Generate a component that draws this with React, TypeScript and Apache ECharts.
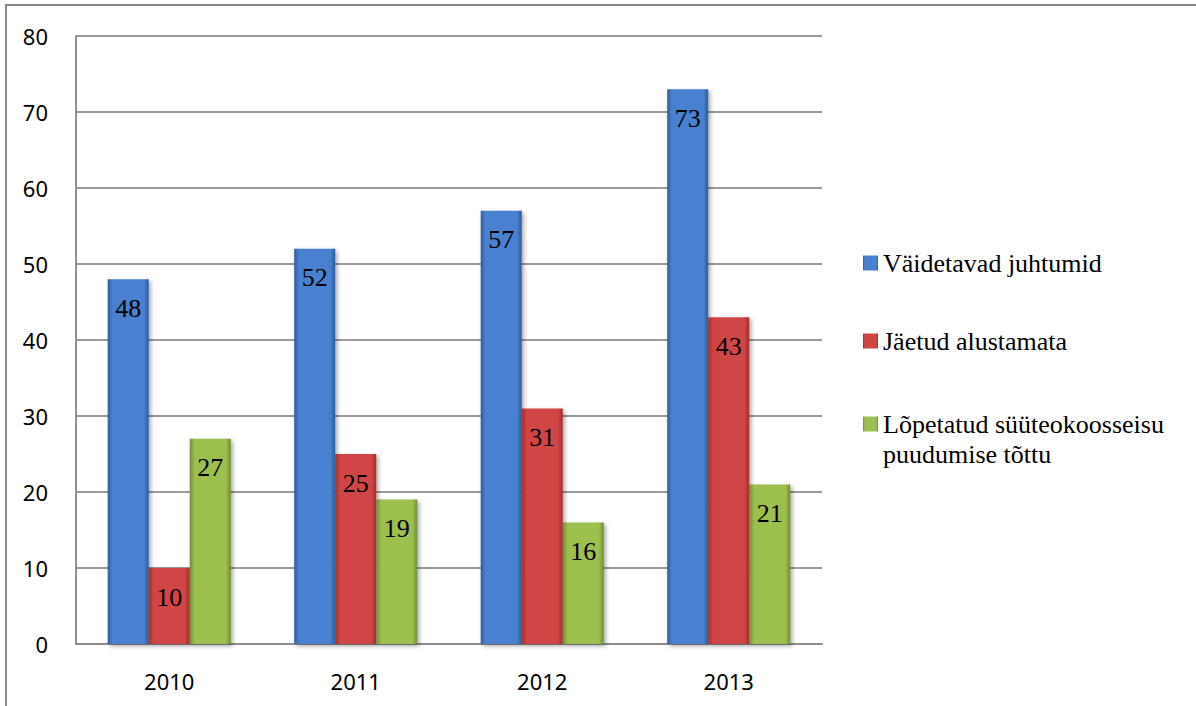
import React, { useEffect, useRef } from "react";
import * as echarts from "echarts";

const categories = ["2010", "2011", "2012", "2013"];
const seriesNames = [
  "Väidetavad juhtumid",
  "Jäetud alustamata",
  "Lõpetatud süüteokoosseisu puudumise tõttu",
];
const claimedCases = [48, 52, 57, 73];
const notStarted = [10, 25, 31, 43];
const terminated = [27, 19, 16, 21];
const yTicks = { min: 0, max: 80, interval: 10 };

const grad = (edge: string, mid: string) =>
  new echarts.graphic.LinearGradient(0, 0, 1, 0, [
    { offset: 0, color: edge },
    { offset: 0.12, color: mid },
    { offset: 0.88, color: mid },
    { offset: 1, color: edge },
  ]);

const palette = [
  grad("#2f5c9c", "#4a80cf"),
  grad("#a12e2d", "#d04544"),
  grad("#6f8c33", "#9cbf4e"),
];

export default function App() {
  const ref = useRef<HTMLDivElement>(null);
  useEffect(() => {
    if (!ref.current) return;
    const chart = echarts.init(ref.current, undefined, { renderer: "svg" });
    const values = [claimedCases, notStarted, terminated];
    const labelFont = "'Liberation Serif', 'Times New Roman', serif";
    const legendTops = [248, 326, 379];
    chart.setOption({
      animation: false,
      backgroundColor: "#ffffff",
      grid: { left: 76, right: 374, top: 36, bottom: 62, containLabel: false },
      xAxis: {
        type: "category",
        data: categories,
        axisLine: { show: true, lineStyle: { color: "#8f8f8f", width: 2 } },
        axisTick: { show: false },
        axisLabel: {
          color: "#000",
          fontSize: 22,
          fontFamily: "'Noto Sans', sans-serif",
          margin: 26,
        },
      },
      yAxis: {
        type: "value",
        min: yTicks.min,
        max: yTicks.max,
        interval: yTicks.interval,
        axisLine: { show: true, lineStyle: { color: "#8f8f8f", width: 2 } },
        axisTick: { show: false },
        splitLine: { lineStyle: { color: "#9a9a9a", width: 2 } },
        axisLabel: {
          color: "#000",
          fontSize: 22,
          fontFamily: "'Noto Sans', sans-serif",
          margin: 28,
        },
      },
      legend: seriesNames.map((n, i) => ({
        orient: "vertical",
        left: 863,
        top: legendTops[i],
        padding: 0,
        itemWidth: 15,
        itemHeight: 15,
        icon: "rect",
        selectedMode: false,
        data: [n],
        formatter: (name: string) =>
          name === seriesNames[2]
            ? "{e| }\n{a|Lõpetatud süüteokoosseisu}\n{a|puudumise tõttu}"
            : name,
        textStyle: {
          color: "#000",
          fontSize: 26,
          lineHeight: 30,
          fontFamily: labelFont,
          rich: {
            e: { fontSize: 26, lineHeight: 30, height: 30, fontFamily: labelFont },
            a: { fontSize: 26, lineHeight: 30, color: "#000", fontFamily: labelFont },
          },
        },
      })),
      series: seriesNames.map((n, i) => ({
        name: n,
        type: "bar",
        data: values[i],
        barGap: "0%",
        barCategoryGap: "34%",
        itemStyle: {
          color: palette[i],
          shadowBlur: 4,
          shadowColor: "rgba(0,0,0,0.35)",
          shadowOffsetX: 2,
          shadowOffsetY: 2,
        },
        label: {
          show: true,
          position: "insideTop",
          distance: 16,
          color: "#000",
          fontSize: 26,
          fontFamily: labelFont,
        },
      })),
      graphic: [
        {
          type: "rect",
          shape: { x: 6, y: 5, width: 1400, height: 900 },
          style: { fill: "none", stroke: "#8a8a8a", lineWidth: 2 },
          silent: true,
        },
      ],
    });
    return () => chart.dispose();
  }, []);
  return (
    <div
      ref={ref}
      style={{ position: "absolute", left: 0, top: 0, width: 1196, height: 706 }}
    />
  );
}
